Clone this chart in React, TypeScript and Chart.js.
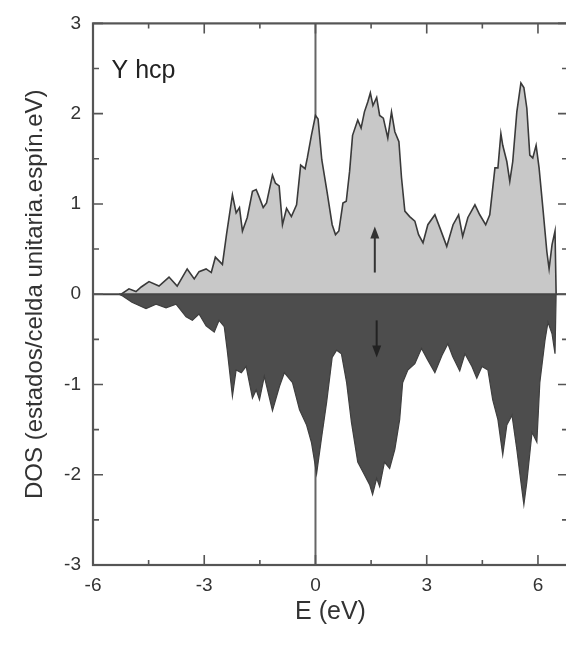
import React, { useEffect, useRef } from "react";
import { Chart, registerables } from "chart.js";

Chart.register(...registerables);

const energyUp = [-5.3, -5.24, -5.03, -4.84, -4.7, -4.49, -4.22, -3.95, -3.73, -3.46, -3.27, -3.14, -2.95, -2.81, -2.7, -2.51, -2.4, -2.24, -2.14, -2.05, -1.97, -1.84, -1.7, -1.6, -1.54, -1.41, -1.32, -1.16, -1.08, -0.98, -0.89, -0.78, -0.65, -0.51, -0.4, -0.28, -0.22, -0.11, 0.0, 0.07, 0.17, 0.31, 0.45, 0.54, 0.63, 0.74, 0.83, 0.92, 1.0, 1.14, 1.23, 1.32, 1.41, 1.48, 1.55, 1.65, 1.73, 1.83, 1.95, 2.05, 2.14, 2.25, 2.32, 2.41, 2.54, 2.68, 2.78, 2.9, 3.03, 3.22, 3.35, 3.54, 3.71, 3.86, 3.97, 4.11, 4.3, 4.43, 4.59, 4.7, 4.84, 4.92, 5.0, 5.05, 5.16, 5.24, 5.32, 5.43, 5.54, 5.62, 5.7, 5.78, 5.86, 5.95, 6.03, 6.14, 6.24, 6.3, 6.38, 6.46, 6.49];
const dosUp = [0, 0.0, 0.06, 0.03, 0.08, 0.14, 0.09, 0.19, 0.09, 0.28, 0.17, 0.25, 0.28, 0.24, 0.41, 0.33, 0.66, 1.1, 0.9, 0.96, 0.7, 0.85, 1.14, 1.16, 1.1, 0.96, 1.01, 1.32, 1.23, 1.2, 0.77, 0.95, 0.86, 0.99, 1.43, 1.39, 1.51, 1.76, 1.98, 1.94, 1.49, 1.14, 0.77, 0.66, 0.7, 1.01, 1.03, 1.36, 1.76, 1.93, 1.84, 2.02, 2.13, 2.23, 2.09, 2.18, 1.98, 1.95, 1.73, 2.02, 1.8, 1.69, 1.29, 0.92, 0.86, 0.81, 0.66, 0.57, 0.77, 0.88, 0.74, 0.53, 0.77, 0.88, 0.64, 0.85, 0.99, 0.88, 0.77, 0.88, 1.4, 1.4, 1.78, 1.65, 1.47, 1.25, 1.47, 2.02, 2.34, 2.29, 2.06, 1.54, 1.51, 1.65, 1.4, 0.92, 0.47, 0.28, 0.55, 0.7, 0];

const energyDown = [-5.3, -5.2, -4.95, -4.57, -4.3, -4.03, -3.76, -3.49, -3.32, -3.14, -2.95, -2.73, -2.6, -2.46, -2.38, -2.24, -2.14, -2.0, -1.87, -1.7, -1.6, -1.51, -1.38, -1.16, -0.97, -0.84, -0.62, -0.43, -0.24, -0.11, 0.03, 0.16, 0.3, 0.45, 0.57, 0.7, 0.84, 0.97, 1.14, 1.32, 1.46, 1.54, 1.65, 1.73, 1.86, 2.0, 2.14, 2.27, 2.35, 2.49, 2.68, 2.86, 3.03, 3.22, 3.41, 3.57, 3.7, 3.89, 4.03, 4.22, 4.35, 4.49, 4.65, 4.78, 4.92, 5.05, 5.16, 5.3, 5.43, 5.54, 5.62, 5.7, 5.84, 5.97, 6.05, 6.19, 6.27, 6.38, 6.46, 6.49];
const dosDown = [0, -0.02, -0.09, -0.16, -0.11, -0.15, -0.11, -0.25, -0.29, -0.22, -0.35, -0.42, -0.29, -0.36, -0.62, -1.13, -0.84, -0.87, -0.8, -1.15, -1.06, -1.17, -0.91, -1.29, -1.02, -0.87, -0.98, -1.28, -1.45, -1.64, -1.99, -1.6, -1.2, -0.7, -0.62, -0.66, -0.98, -1.42, -1.86, -2.0, -2.11, -2.22, -2.04, -2.13, -1.86, -1.93, -1.72, -1.39, -0.98, -0.84, -0.77, -0.6, -0.73, -0.87, -0.68, -0.55, -0.69, -0.85, -0.66, -0.8, -0.93, -0.8, -0.84, -1.17, -1.39, -1.78, -1.45, -1.34, -1.72, -2.08, -2.33, -2.08, -1.53, -1.64, -0.98, -0.51, -0.31, -0.44, -0.66, 0];

const xTickValues = [-6, -3, 0, 3, 6];
const xMinorTicks = [-4.5, -1.5, 1.5, 4.5];
const yTickValues = [-3, -2, -1, 0, 1, 2, 3];
const yMinorTicks = [-2.5, -1.5, -0.5, 0.5, 1.5, 2.5];

const panelLabel = "Y hcp";
const xTitle = "E (eV)";
const yTitle = "DOS (estados/celda unitaria.espín.eV)";

const FONT = "'Liberation Sans', Arial, Helvetica, sans-serif";

const framePlugin = {
  id: "frame",
  beforeDatasetsDraw(chart: any) {
    const { ctx, chartArea, scales } = chart;
    const x0 = scales.x.getPixelForValue(0);
    ctx.save();
    ctx.strokeStyle = "#666";
    ctx.lineWidth = 2;
    ctx.beginPath();
    ctx.moveTo(x0, chartArea.top);
    ctx.lineTo(x0, chartArea.bottom);
    ctx.stroke();
    ctx.restore();
  },
  afterDatasetsDraw(chart: any) {
    const { ctx, chartArea, scales } = chart;
    const { left, right, top, bottom } = chartArea;
    const xs = scales.x;
    const ys = scales.y;
    ctx.save();
    ctx.strokeStyle = "#444";
    ctx.lineWidth = 2;
    const y0 = ys.getPixelForValue(0);
    ctx.beginPath();
    ctx.moveTo(left, y0);
    ctx.lineTo(right, y0);
    ctx.stroke();

    ctx.strokeStyle = "#555";
    ctx.lineWidth = 2.2;
    ctx.strokeRect(left, top, right - left, bottom - top);

    ctx.lineWidth = 1.6;
    ctx.beginPath();
    const xt = (v: number, len: number) => {
      const p = xs.getPixelForValue(v);
      ctx.moveTo(p, bottom);
      ctx.lineTo(p, bottom - len);
      ctx.moveTo(p, top);
      ctx.lineTo(p, top + len);
    };
    const yt = (v: number, len: number) => {
      const p = ys.getPixelForValue(v);
      ctx.moveTo(left, p);
      ctx.lineTo(left + len, p);
      ctx.moveTo(right, p);
      ctx.lineTo(right - len, p);
    };
    xTickValues.forEach((v) => xt(v, 10));
    xMinorTicks.forEach((v) => xt(v, 5));
    yTickValues.forEach((v) => yt(v, 10));
    yMinorTicks.forEach((v) => yt(v, 6));
    ctx.stroke();

    const arrow = (xv: number, fromV: number, toV: number, color: string) => {
      const px = xs.getPixelForValue(xv);
      const p1 = ys.getPixelForValue(fromV);
      const p2 = ys.getPixelForValue(toV);
      const dir = p2 < p1 ? 1 : -1;
      ctx.strokeStyle = color;
      ctx.fillStyle = color;
      ctx.lineWidth = 2;
      ctx.beginPath();
      ctx.moveTo(px, p1);
      ctx.lineTo(px, p2 + dir * 8);
      ctx.stroke();
      ctx.beginPath();
      ctx.moveTo(px, p2);
      ctx.lineTo(px - 4.5, p2 + dir * 12);
      ctx.lineTo(px + 4.5, p2 + dir * 12);
      ctx.closePath();
      ctx.fill();
    };
    arrow(1.6, 0.24, 0.75, "#333");
    arrow(1.65, -0.29, -0.7, "#222");

    ctx.fillStyle = "#222";
    ctx.font = `25px ${FONT}`;
    ctx.textAlign = "left";
    ctx.textBaseline = "middle";
    ctx.fillText(panelLabel, xs.getPixelForValue(-5.5), ys.getPixelForValue(2.47));
    ctx.restore();
  },
};

export default function App() {
  const ref = useRef<HTMLCanvasElement | null>(null);
  useEffect(() => {
    document.body.style.margin = "0";
    const canvas = ref.current;
    if (!canvas) return;
    const chart = new Chart(canvas, {
      type: "line",
      data: {
        datasets: [
          {
            label: "up",
            data: energyUp.map((e, i) => ({ x: e, y: dosUp[i] })),
            borderColor: "#3a3a3a",
            borderWidth: 1.6,
            backgroundColor: "#c8c8c8",
            fill: "origin",
            pointRadius: 0,
            tension: 0,
          },
          {
            label: "down",
            data: energyDown.map((e, i) => ({ x: e, y: dosDown[i] })),
            borderColor: "#3f3f3f",
            borderWidth: 1.2,
            backgroundColor: "#4d4d4d",
            fill: "origin",
            pointRadius: 0,
            tension: 0,
          },
        ],
      },
      options: {
        responsive: false,
        animation: false,
        events: [],
        layout: { padding: { top: 18, right: 2, left: 0, bottom: 0 } },
        plugins: { legend: { display: false }, tooltip: { enabled: false } },
        scales: {
          x: {
            type: "linear",
            min: -6,
            max: 6.81,
            grid: { display: false, drawTicks: false },
            border: { display: false },
            afterBuildTicks: (s: any) => {
              s.ticks = xTickValues.map((v) => ({ value: v }));
            },
            afterFit: (s: any) => {
              s.height = 82;
            },
            ticks: {
              padding: 9,
              color: "#333",
              font: { family: FONT, size: 19 },
              callback: (v: any) => String(v),
            },
            title: {
              display: true,
              text: xTitle,
              color: "#333",
              font: { family: FONT, size: 25 },
              padding: { top: 0, bottom: 20 },
            },
          },
          y: {
            type: "linear",
            min: -3,
            max: 3,
            grid: { display: false, drawTicks: false },
            border: { display: false },
            afterBuildTicks: (s: any) => {
              s.ticks = yTickValues.map((v) => ({ value: v }));
            },
            afterFit: (s: any) => {
              s.width = 93;
            },
            ticks: {
              padding: 12,
              color: "#333",
              font: { family: FONT, size: 19 },
              callback: (v: any) => String(v),
            },
            title: {
              display: true,
              text: yTitle,
              color: "#333",
              font: { family: FONT, size: 24 },
              padding: { top: 21, bottom: 0 },
            },
          },
        },
      },
      plugins: [framePlugin],
    });
    return () => chart.destroy();
  }, []);
  return (
    <div style={{ position: "fixed", left: 0, top: 0, width: 566, height: 647, overflow: "hidden", background: "#fff" }}>
      <canvas ref={ref} width={570} height={647} style={{ display: "block" }} />
    </div>
  );
}
